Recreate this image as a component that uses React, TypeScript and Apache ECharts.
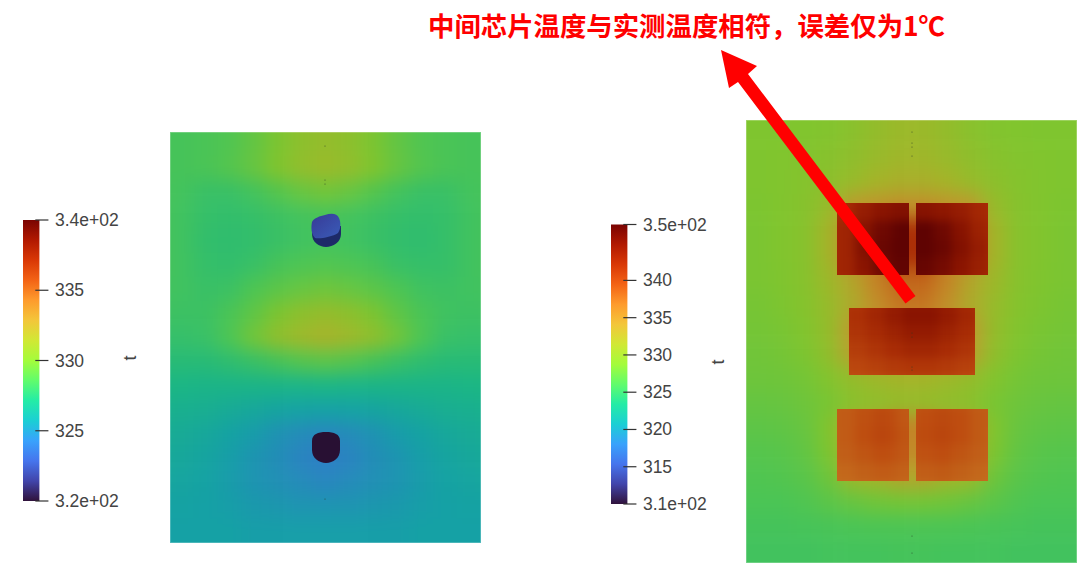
import React, { useEffect, useRef } from "react";
import * as echarts from "echarts";

const TITLE = "中间芯片温度与实测温度相符，误差仅为1℃";
const FIELD_LABEL = "t";

const turboStops = ["#30123b","#4145ab","#4675ed","#39a2fc","#1bcfd4","#24eca6","#61fc6c","#a4fc3b","#d1e834","#f3c63a","#fe9b2d","#f36315","#d93806","#b11901","#7a0402"];

const leftRange = [320, 340];
const leftTicks = [320, 325, 330, 335, 340];
const leftLabels = ["3.2e+02", "325", "330", "335", "3.4e+02"];
const rightRange = [310, 347.5];
const rightTicks = [310, 315, 320, 325, 330, 335, 340, 347.5];
const rightLabels = ["3.1e+02", "315", "320", "325", "330", "335", "340", "3.5e+02"];

const leftField = [
  [328.4,328.4,328.5,328.7,329.2,329.9,330.5,330.8,330.5,329.9,329.2,328.7,328.5,328.4,328.4],
  [328.4,328.4,328.5,328.7,329.2,329.9,330.5,330.8,330.5,329.9,329.2,328.7,328.5,328.4,328.4],
  [328.4,328.4,328.5,328.8,329.3,330.0,330.7,331.0,330.7,330.0,329.3,328.8,328.5,328.4,328.4],
  [328.4,328.3,328.0,328.0,328.3,328.8,329.3,329.6,329.3,328.8,328.3,328.0,328.0,328.3,328.4],
  [328.4,328.2,327.9,327.8,327.9,328.1,328.3,328.4,328.3,328.1,327.9,327.8,327.9,328.2,328.4],
  [328.4,328.2,327.8,327.7,327.8,328.0,328.2,328.3,328.2,328.0,327.8,327.7,327.9,328.2,328.4],
  [328.4,328.2,327.9,327.8,328.0,328.4,328.6,328.7,328.6,328.4,328.0,327.9,327.9,328.2,328.4],
  [328.3,328.2,328.0,328.1,328.6,329.0,329.3,329.5,329.3,329.0,328.6,328.2,328.1,328.2,328.3],
  [328.2,328.1,328.1,328.5,329.1,329.9,330.5,330.8,330.5,329.9,329.1,328.5,328.2,328.1,328.2],
  [327.9,327.9,328.0,328.6,329.6,330.6,331.2,331.6,331.2,330.6,329.6,328.6,328.0,327.9,327.9],
  [327.5,327.5,327.5,327.7,328.0,328.4,328.8,329.0,328.8,328.4,328.0,327.7,327.5,327.5,327.5],
  [327.1,327.0,326.9,326.9,326.9,326.9,326.9,327.0,326.9,326.9,326.9,326.9,326.9,327.0,327.1],
  [326.7,326.6,326.5,326.3,326.1,325.9,325.8,325.7,325.8,325.9,326.1,326.3,326.5,326.6,326.7],
  [326.4,326.3,326.1,325.8,325.5,325.1,324.8,324.6,324.8,325.1,325.5,325.8,326.1,326.3,326.4],
  [326.2,326.1,325.9,325.6,325.2,324.9,324.5,324.3,324.5,324.9,325.2,325.6,325.9,326.1,326.2],
  [326.0,325.9,325.8,325.5,325.2,325.0,324.8,324.6,324.8,325.0,325.2,325.5,325.8,325.9,326.0],
  [325.8,325.8,325.7,325.6,325.4,325.3,325.2,325.2,325.2,325.3,325.4,325.6,325.7,325.8,325.8],
  [325.7,325.7,325.7,325.7,325.6,325.6,325.6,325.6,325.6,325.6,325.6,325.7,325.7,325.7,325.7],
  [325.7,325.7,325.7,325.7,325.6,325.6,325.6,325.6,325.6,325.6,325.6,325.7,325.7,325.7,325.7],
];

const rightField = [
  [328.7,328.7,328.7,328.8,329.0,329.5,330.2,330.8,330.8,330.2,329.5,329.0,328.8,328.7,328.7,328.7],
  [328.7,328.7,328.7,328.8,329.0,329.5,330.2,330.8,330.8,330.2,329.5,329.0,328.8,328.7,328.7,328.7],
  [328.7,328.7,328.8,329.0,329.3,329.9,330.6,331.1,331.1,330.6,329.9,329.3,329.0,328.8,328.7,328.7],
  [328.7,328.7,328.8,329.1,329.7,330.5,331.5,332.0,332.0,331.5,330.5,329.7,329.1,328.8,328.7,328.7],
  [328.6,328.6,328.8,329.2,330.5,334.0,334.5,335.0,335.0,334.5,334.0,330.5,329.2,328.8,328.6,328.6],
  [328.5,328.5,328.8,329.3,331.5,335.5,336.0,342.0,342.0,336.0,335.5,331.5,329.3,328.8,328.5,328.5],
  [328.5,328.5,328.8,329.3,331.5,335.5,336.0,342.0,342.0,336.0,335.5,331.5,329.3,328.8,328.5,328.5],
  [328.5,328.5,328.7,329.3,331.0,333.0,336.0,338.0,338.0,336.0,333.0,331.0,329.3,328.7,328.5,328.5],
  [328.3,328.3,328.6,329.1,330.5,332.5,335.0,337.0,337.0,335.0,332.5,330.5,329.1,328.6,328.3,328.3],
  [328.2,328.2,328.4,328.9,330.3,334.0,335.0,335.0,335.0,335.0,334.0,330.3,328.9,328.4,328.2,328.2],
  [328.0,328.0,328.2,328.6,330.0,333.5,334.0,334.0,334.0,334.0,333.5,330.0,328.6,328.2,328.0,328.0],
  [327.8,327.8,327.9,328.2,329.0,330.3,331.0,331.5,331.5,331.0,330.3,329.0,328.2,327.9,327.8,327.8],
  [327.4,327.4,327.5,327.8,328.4,329.5,330.0,330.3,330.3,330.0,329.5,328.4,327.8,327.5,327.4,327.4],
  [327.0,327.0,327.1,327.5,328.8,332.5,333.0,336.0,336.0,333.0,332.5,328.8,327.5,327.1,327.0,327.0],
  [326.6,326.6,326.7,327.2,328.6,332.0,332.5,335.5,335.5,332.5,332.0,328.6,327.2,326.7,326.6,326.6],
  [326.3,326.3,326.4,326.8,327.8,331.0,331.5,333.0,333.0,331.5,331.0,327.8,326.8,326.4,326.3,326.3],
  [326.0,326.0,326.0,326.3,326.9,327.5,328.0,328.2,328.2,328.0,327.5,326.9,326.3,326.0,326.0,326.0],
  [325.7,325.7,325.7,325.8,325.9,326.0,326.1,326.1,326.1,326.1,326.0,325.9,325.8,325.7,325.7,325.7],
  [325.5,325.5,325.5,325.5,325.6,325.6,325.6,325.7,325.7,325.6,325.6,325.6,325.5,325.5,325.5,325.5],
  [325.5,325.5,325.5,325.5,325.6,325.6,325.6,325.7,325.7,325.6,325.6,325.6,325.5,325.5,325.5,325.5],
];

const chipTopLeft = [
  [341.8,342.3,343.3,344.3,344.8,344.8],
  [341.8,342.5,343.8,344.8,345.3,345.3],
  [342.3,343.0,345.0,346.5,347.3,347.5],
  [342.3,343.0,345.3,346.8,347.5,347.5],
  [342.3,343.0,344.8,346.5,347.3,347.3],
  [342.0,342.8,344.2,346.0,347.0,347.0],
];
const chipTopRight = [
  [344.8,344.5,344.0,343.3,342.5,342.0],
  [345.3,345.0,344.5,343.8,342.7,342.0],
  [347.5,347.5,346.5,345.0,343.3,342.3],
  [347.5,347.5,346.8,345.3,343.8,342.5],
  [347.3,347.0,346.2,344.8,343.5,342.5],
  [347.0,346.5,345.5,344.3,343.0,342.3],
];
const chipMiddle = [
  [341.5,341.5,342.5,343.5,344.5,344.5,343.5,342.5,341.5],
  [341.5,341.8,342.8,344.0,344.8,344.8,344.0,342.8,341.8],
  [341.2,341.5,342.3,343.2,344.0,344.0,343.2,342.3,341.5],
  [340.5,340.8,341.5,342.2,342.8,342.8,342.2,341.5,340.8],
  [339.8,340.0,340.5,341.0,341.3,341.3,341.0,340.5,340.0],
  [339.0,339.2,339.5,340.0,340.2,340.2,340.0,339.5,339.2],
];
const chipBottomLeft = [
  [338.3,338.5,339.0,339.3,339.0,338.6],
  [338.3,338.6,339.3,339.8,339.5,338.8],
  [338.2,338.6,339.4,340.0,339.6,339.0],
  [338.0,338.4,339.0,339.4,339.2,338.8],
  [337.6,337.9,338.3,338.6,338.5,338.2],
  [337.2,337.4,337.7,337.9,337.8,337.6],
];
const chipBottomRight = [
  [338.6,339.0,339.3,339.0,338.5,338.3],
  [338.8,339.5,339.8,339.5,338.7,338.3],
  [339.0,339.6,340.0,339.5,338.7,338.2],
  [338.8,339.2,339.5,339.0,338.4,338.0],
  [338.2,338.5,338.7,338.3,337.9,337.6],
  [337.6,337.8,338.0,337.7,337.4,337.2],
];

// rect: [left, top, width, height] of the visible area of each heat block
const LEFT_PANEL = [170, 132, 311, 411];
const RIGHT_PANEL = [746, 120, 331, 443];
const chipBlocks: [number[][], number[]][] = [
  [chipTopLeft, [837, 203, 72, 72]],
  [chipTopRight, [916, 203, 72, 72]],
  [chipMiddle, [849, 308, 126, 67]],
  [chipBottomLeft, [837, 409, 72, 72]],
  [chipBottomRight, [916, 409, 72, 72]],
];

const shade = (hex: string, k: number) => {
  const n = parseInt(hex.slice(1), 16);
  const c = [(n >> 16) & 255, (n >> 8) & 255, n & 255].map((v) => Math.round(v * k));
  return `rgb(${c[0]},${c[1]},${c[2]})`;
};
const litTurbo = turboStops.map((h) => shade(h, 0.78));

const rectPath = (r: number[]) => `M${r[0]} ${r[1]}H${r[0] + r[2]}V${r[1] + r[3]}H${r[0]}Z`;

// one-cell margin round each matrix so the blur does not fade at the visible edge
function heatOption(blocks: [number[][], number[]][], range: number[][]) {
  const grid: any[] = [], xAxis: any[] = [], yAxis: any[] = [], series: any[] = [], visualMap: any[] = [];
  blocks.forEach(([m, r], i) => {
    const rows = m.length, cols = m[0].length;
    const cw = r[2] / (cols - 2), ch = r[3] / (rows - 2);
    grid.push({ left: r[0] - cw, top: r[1] - ch, width: cw * cols, height: ch * rows });
    xAxis.push({ type: "category", gridIndex: i, show: false, data: m[0].map((_, k) => k) });
    yAxis.push({ type: "category", gridIndex: i, show: false, inverse: true, data: m.map((_, k) => k) });
    const data: number[][] = [];
    m.forEach((row, y) => row.forEach((v, x) => data.push([x, y, v])));
    series.push({ type: "heatmap", xAxisIndex: i, yAxisIndex: i, data, progressive: 0, emphasis: { disabled: true }, itemStyle: { borderWidth: 0 } });
    visualMap.push({ show: false, seriesIndex: i, dimension: 2, min: range[i][0], max: range[i][1], inRange: { color: litTurbo } });
  });
  return { animation: false, tooltip: { show: false }, grid, xAxis, yAxis, series, visualMap };
}

const topHoleSide = "M312 226L312 234C312 242 319 247 326 247C333 247 341 242 341 234L341 226Z";
const topHoleFace = "M312 222C314 218 320 216 325 215C331 213 337 213 339 218C341 222 341 229 338 233C332 237 320 239 315 238C311 234 311 227 312 222Z";
const bottomHole = "M312 441C312 434 318 432 326 432C334 432 340 434 340 441L340 450C340 458 333 463 326 463C319 463 312 458 312 450Z";
echarts.graphic.registerShape("holeSide", echarts.graphic.extendPath(topHoleSide, {}));
echarts.graphic.registerShape("holeFace", echarts.graphic.extendPath(topHoleFace, {}));
echarts.graphic.registerShape("holeBottom", echarts.graphic.extendPath(bottomHole, {}));

const arrowPoints = [[721, 50], [757, 66], [748, 74], [915.5, 296], [905.5, 303.5], [738, 82], [729, 88]];
const meshDots = [[325, 146], [325, 180], [325, 184], [325, 499], [912, 132], [912, 143], [912, 147], [912, 156], [912, 333], [912, 337], [912, 367], [912, 370], [912, 536], [912, 553]];

function colorbar(i: number, range: number[], ticks: number[], labels: string[]) {
  return {
    y: {
      type: "value", gridIndex: i, position: "right", offset: -4, min: range[0], max: range[1], z: 5,
      splitLine: { show: false }, axisLine: { show: false }, axisTick: { show: false },
      axisLabel: { color: "#444", fontFamily: "Liberation Sans", fontSize: 17.5, margin: 19.5, padding: [0, 0, 2, 0], customValues: ticks, formatter: (v: number) => labels[ticks.indexOf(v)] ?? String(v) },
    },
    bar: {
      type: "custom", xAxisIndex: i, yAxisIndex: i, clip: false, silent: true, z: 2,
      data: [[0, range[0], 1, range[1]]],
      renderItem: (_: any, api: any) => {
        const a = api.coord([api.value(0), api.value(3)]);
        const b = api.coord([api.value(2), api.value(1)]);
        return {
          type: "rect",
          shape: { x: a[0], y: a[1], width: b[0] - a[0], height: b[1] - a[1] },
          style: {
            fill: new echarts.graphic.LinearGradient(0, 0, 0, 1,
              turboStops.slice().reverse().map((color, k) => ({ offset: k / (turboStops.length - 1), color }))),
          },
        };
      },
    },
    ticks: {
      type: "custom", xAxisIndex: i, yAxisIndex: i, clip: false, silent: true, z: 3,
      data: ticks.map((v) => [0.75, v, 1.55]),
      renderItem: (_: any, api: any) => {
        const a = api.coord([api.value(0), api.value(1)]);
        const b = api.coord([api.value(2), api.value(1)]);
        return { type: "line", shape: { x1: a[0], y1: a[1], x2: b[0], y2: b[1] }, style: { stroke: "#333", lineWidth: 1.2 } };
      },
    },
  };
}

const layerStyle: React.CSSProperties = { position: "absolute", left: 0, top: 0, width: 1080, height: 566 };
const heatLayerStyle: React.CSSProperties = { position: "absolute", left: 0, top: 0, width: 1160, height: 650 };

export default function App() {
  const fieldRef = useRef<HTMLDivElement>(null);
  const chipRef = useRef<HTMLDivElement>(null);
  const mainRef = useRef<HTMLDivElement>(null);

  useEffect(() => {
    const field = echarts.init(fieldRef.current!, undefined, { renderer: "svg" });
    const chips = echarts.init(chipRef.current!, undefined, { renderer: "svg" });
    const main = echarts.init(mainRef.current!, undefined, { renderer: "svg" });

    field.setOption(heatOption([[leftField, LEFT_PANEL], [rightField, RIGHT_PANEL]], [leftRange, rightRange]));
    chips.setOption(heatOption(chipBlocks, chipBlocks.map(() => rightRange)));

    const cbL = colorbar(0, leftRange, leftTicks, leftLabels);
    const cbR = colorbar(1, rightRange, rightTicks, rightLabels);
    main.setOption({
      animation: false,
      backgroundColor: "transparent",
      tooltip: { show: false },
      grid: [
        { left: 23, top: 220, width: 16.4, height: 281 },
        { left: 611, top: 224.5, width: 16.4, height: 279.5 },
      ],
      xAxis: [
        { type: "value", gridIndex: 0, show: false, min: 0, max: 1 },
        { type: "value", gridIndex: 1, show: false, min: 0, max: 1 },
      ],
      yAxis: [cbL.y, cbR.y],
      series: [cbL.bar, cbL.ticks, cbR.bar, cbR.ticks],
      graphic: [
        { type: "rect", shape: { x: 170, y: 132, width: 311, height: 411 }, style: { fill: "none", stroke: "rgba(255,255,255,0.3)", lineWidth: 1.5 }, silent: true },
        { type: "rect", shape: { x: 746, y: 120, width: 331, height: 443 }, style: { fill: "none", stroke: "rgba(255,255,255,0.3)", lineWidth: 1.5 }, silent: true },
        ...meshDots.map(([x, y]) => ({ type: "rect", shape: { x: x - 0.5, y: y - 0.5, width: 1, height: 1.2 }, style: { fill: "rgba(40,60,40,0.55)" }, silent: true })),
        { type: "holeSide", x: 0, y: 0, style: { fill: "#1d2a68" }, silent: true },
        { type: "holeFace", x: 0, y: 0, style: { fill: new echarts.graphic.LinearGradient(0, 0, 1, 1, [{ offset: 0, color: "#373a96" }, { offset: 1, color: "#3a5cb8" }]) }, silent: true },
        { type: "holeBottom", x: 0, y: 0, style: { fill: "#281033" }, silent: true },
        { type: "polygon", shape: { points: arrowPoints }, style: { fill: "#ff0000" }, silent: true },
        { type: "text", x: 428, y: 24, style: { text: TITLE, fill: "#ff0000", font: 'bold 26.4px "Noto Sans CJK SC"', textAlign: "left", textVerticalAlign: "middle" }, silent: true },
        { type: "text", x: 130, y: 358, rotation: Math.PI / 2, style: { text: FIELD_LABEL, fill: "#444", font: '18px "Liberation Sans"', textAlign: "center", textVerticalAlign: "middle" }, silent: true },
        { type: "text", x: 718, y: 362, rotation: Math.PI / 2, style: { text: FIELD_LABEL, fill: "#444", font: '18px "Liberation Sans"', textAlign: "center", textVerticalAlign: "middle" }, silent: true },
      ],
    });

    return () => { field.dispose(); chips.dispose(); main.dispose(); };
  }, []);

  return (
    <div style={{ position: "fixed", left: 0, top: 0, width: 1080, height: 566, background: "#fff", overflow: "hidden" }}>
      <div style={{ ...heatLayerStyle, clipPath: `path("${rectPath(LEFT_PANEL)} ${rectPath(RIGHT_PANEL)}")` }}>
        <div ref={fieldRef} style={{ ...heatLayerStyle, filter: "blur(9px)" }} />
      </div>
      <div style={{ ...heatLayerStyle, clipPath: `path("${chipBlocks.map((b) => rectPath(b[1])).join(" ")}")` }}>
        <div ref={chipRef} style={{ ...heatLayerStyle, filter: "blur(5px)" }} />
      </div>
      <div ref={mainRef} style={layerStyle} />
    </div>
  );
}
